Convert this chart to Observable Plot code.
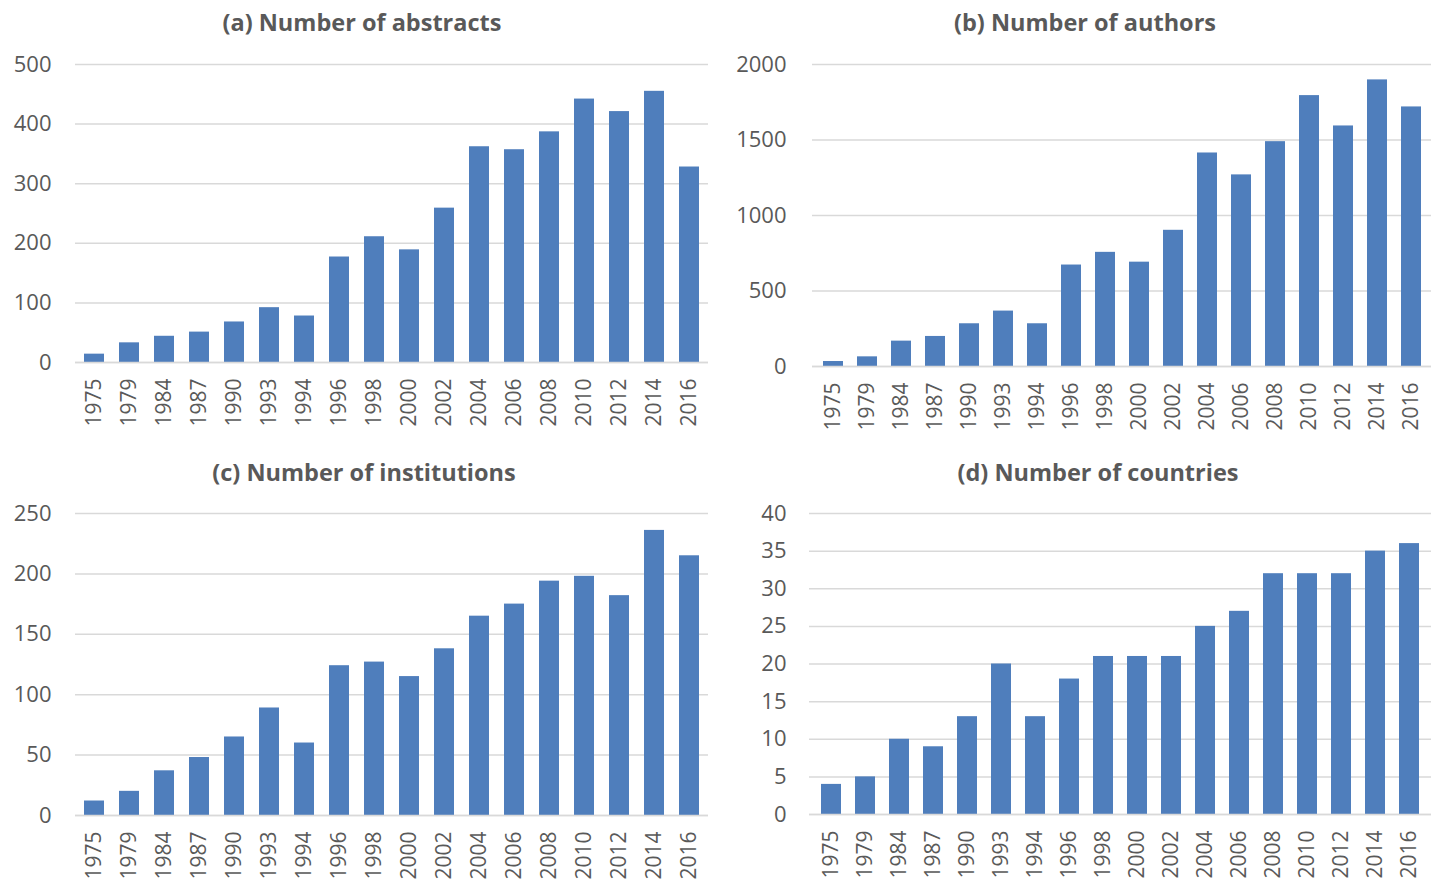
<!DOCTYPE html>
<html>
<head>
<meta charset="utf-8">
<script src="https://cdn.jsdelivr.net/npm/d3@7"></script>
<script src="https://cdn.jsdelivr.net/npm/@observablehq/plot@0.6"></script>
<style>
  html, body { margin: 0; padding: 0; background: #fff; }
  #root { position: relative; width: 1434px; height: 884px; overflow: hidden; font-family: "Open Sans", Lato, sans-serif; }
  .title { position: absolute; font-family: "Open Sans", Lato, sans-serif; font-weight: bold; font-size: 23.5px; color: #595959; white-space: nowrap; transform: translate(-50%, -50%); }
  .panel { position: absolute; }
</style>
</head>
<body>
<div id="root"></div>
<script>
const years = ["1975","1979","1984","1987","1990","1993","1994","1996","1998","2000","2002","2004","2006","2008","2010","2012","2014","2016"];
const abstracts = [14, 33, 44, 51, 68, 92, 78, 177, 211, 189, 259, 362, 357, 387, 442, 421, 455, 328];
const authors = [33, 64, 168, 199, 283, 367, 283, 672, 756, 691, 902, 1414, 1269, 1489, 1794, 1593, 1898, 1719];
const institutions = [12, 20, 37, 48, 65, 89, 60, 124, 127, 115, 138, 165, 175, 194, 198, 182, 236, 215];
const countries = [4, 5, 10, 9, 13, 20, 13, 18, 21, 21, 21, 25, 27, 32, 32, 32, 35, 36];
const titles = ["(a) Number of abstracts", "(b) Number of authors", "(c) Number of institutions", "(d) Number of countries"];
const yTicksA = [0, 100, 200, 300, 400, 500];
const yTicksB = [0, 500, 1000, 1500, 2000];
const yTicksC = [0, 50, 100, 150, 200, 250];
const yTicksD = [0, 5, 10, 15, 20, 25, 30, 35, 40];

const root = document.getElementById("root");
const grey = "#595959";
const barColor = "#4F7EBC";
const gridColor = "#D9D9D9";

const panels = [
  {values: abstracts, ticks: yTicksA, title: titles[0], tx: 362, ty: 22, left: 0, top: 40, ml: 75, mr: 9, mt: 24, mb: 80, h: 402, tp: 24},
  {values: authors, ticks: yTicksB, title: titles[1], tx: 1085, ty: 22, left: 717, top: 40, ml: 95, mr: 3, mt: 24, mb: 76, h: 402, tp: 26},
  {values: institutions, ticks: yTicksC, title: titles[2], tx: 364, ty: 472, left: 0, top: 490, ml: 75, mr: 9, mt: 23, mb: 69, h: 394, tp: 24},
  {values: countries, ticks: yTicksD, title: titles[3], tx: 1098, ty: 472, left: 717, top: 490, ml: 92, mr: 3, mt: 23, mb: 70, h: 394, tp: 23}
];

for (const p of panels) {
  const data = years.map((y, i) => ({year: y, value: p.values[i]}));
  const t = document.createElement("div");
  t.className = "title";
  t.textContent = p.title;
  t.style.left = p.tx + "px";
  t.style.top = p.ty + "px";
  root.appendChild(t);

  const chart = Plot.plot({
    width: 717,
    height: p.h,
    marginLeft: p.ml,
    marginRight: p.mr,
    marginTop: p.mt,
    marginBottom: p.mb,
    style: {fontFamily: "'Open Sans', Lato, sans-serif", color: grey, background: "transparent", overflow: "visible"},
    x: {domain: years, paddingInner: 0.42, paddingOuter: 0.21},
    y: {domain: [0, d3.max(p.ticks)]},
    marks: [
      Plot.gridY(p.ticks, {stroke: gridColor, strokeOpacity: 1, strokeWidth: 1.5}),
      Plot.barY(data, {x: "year", y: "value", fill: barColor}),
      Plot.ruleY([0], {stroke: gridColor, strokeWidth: 1.5}),
      Plot.axisY(p.ticks, {tickSize: 0, tickPadding: p.tp, fontSize: 22, label: null, fill: grey, tickFormat: d => String(d)}),
      Plot.axisX({tickRotate: -90, tickSize: 0, tickPadding: 16, fontSize: 21, label: null, fill: grey})
    ]
  });
  chart.classList.add("panel");
  chart.style.left = p.left + "px";
  chart.style.top = p.top + "px";
  root.appendChild(chart);
}
</script>
</body>
</html>
